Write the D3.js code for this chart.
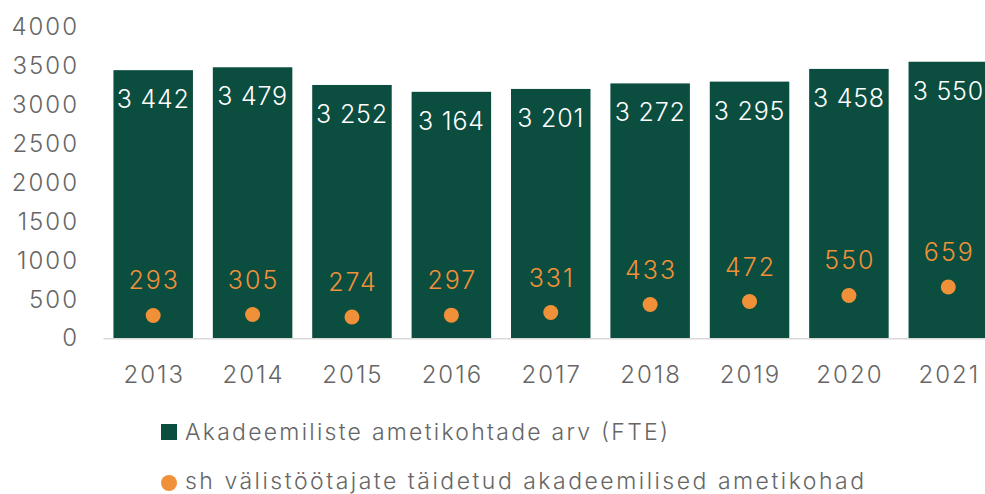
<!DOCTYPE html>
<html>
  <head>
    <style>
      body { margin: 0; background: #fff; }
      text { font-family: Inter, "DejaVu Sans", sans-serif; }
    </style>
    <script src="https://d3js.org/d3.v7.min.js"></script>
  </head>

  <body>
    <svg width="985" height="494"></svg>

    <script>
      var years = ["2013", "2014", "2015", "2016", "2017", "2018", "2019", "2020", "2021"];
      var totalFte = [3442, 3479, 3252, 3164, 3201, 3272, 3295, 3458, 3550];
      var foreignFte = [293, 305, 274, 297, 331, 433, 472, 550, 659];
      var yTicks = [0, 500, 1000, 1500, 2000, 2500, 3000, 3500, 4000];
      var legendLabels = [
        "Akadeemiliste ametikohtade arv (FTE)",
        "sh välistöötajate täidetud akadeemilised ametikohad"
      ];
      var legendWidths = [483, 679];

      var green = "#0b4d3f", orange = "#f0913a", grey = "#666666";

      var svg = d3.select("svg");

      var x = d3.scaleBand().domain(years).range([103.5, 998])
        .paddingInner(0.2).paddingOuter(0.1);
      var y = d3.scaleLinear().domain([0, 4000]).range([338.3, 26.7]);

      var fmt = d3.formatLocale({ decimal: ",", thousands: " ", grouping: [3], currency: ["", ""] }).format(",d");

      // y axis labels
      var yAxis = svg.append("g")
        .attr("transform", "translate(79,0)")
        .call(d3.axisLeft(y).tickValues(yTicks).tickSize(0).tickPadding(0).tickFormat(d3.format("d")));
      yAxis.select(".domain").remove();
      yAxis.selectAll("text").attr("font-size", 24).attr("fill", grey)
        .attr("font-family", null).attr("font-weight", 300)
        .style("letter-spacing", "2px");

      // bars
      svg.selectAll(".bar")
        .data(totalFte)
        .enter()
        .append("rect")
        .attr("class", "bar")
        .attr("x", function (d, i) { return x(years[i]); })
        .attr("y", function (d) { return y(d); })
        .attr("width", x.bandwidth())
        .attr("height", function (d) { return y(0) - y(d); })
        .attr("fill", green);

      // baseline
      svg.append("line")
        .attr("x1", x.range()[0]).attr("x2", 985)
        .attr("y1", y(0) + 0.5).attr("y2", y(0) + 0.5)
        .attr("stroke", "#d9d9d9").attr("stroke-width", 1.5);

      // bar labels
      svg.selectAll(".barlabel")
        .data(totalFte)
        .enter()
        .append("text")
        .attr("x", function (d, i) { return x(years[i]) + x.bandwidth() / 2; })
        .attr("y", function (d) { return y(d) + 38; })
        .attr("text-anchor", "middle")
        .attr("font-size", 25)
        .attr("font-weight", 300)
        .attr("fill", "#fff")
        .style("letter-spacing", "0.8px")
        .text(function (d) { return fmt(d); });

      // dots
      svg.selectAll(".dot")
        .data(foreignFte)
        .enter()
        .append("circle")
        .attr("cx", function (d, i) { return x(years[i]) + x.bandwidth() / 2; })
        .attr("cy", function (d) { return y(d); })
        .attr("r", 7.5)
        .attr("fill", orange);

      svg.selectAll(".dotlabel")
        .data(foreignFte)
        .enter()
        .append("text")
        .attr("x", function (d, i) { return x(years[i]) + x.bandwidth() / 2 + 1; })
        .attr("y", function (d) { return y(d) - 26; })
        .attr("text-anchor", "middle")
        .attr("font-size", 25)
        .attr("font-weight", 300)
        .attr("fill", orange)
        .style("letter-spacing", "2px")
        .text(function (d) { return d; });

      // x axis labels
      var xAxis = svg.append("g")
        .attr("transform", "translate(1,383)")
        .call(d3.axisBottom(x).tickSize(0).tickPadding(0));
      xAxis.select(".domain").remove();
      xAxis.selectAll("text").attr("font-size", 24).attr("fill", grey)
        .attr("font-family", null).attr("font-weight", 300).attr("dy", 0)
        .style("letter-spacing", "2px");

      // legend
      svg.append("rect").attr("x", 161).attr("y", 424).attr("width", 16).attr("height", 16).attr("fill", green);
      svg.append("circle").attr("cx", 169).attr("cy", 483).attr("r", 8).attr("fill", orange);
      svg.selectAll(".legend")
        .data(legendLabels)
        .enter()
        .append("text")
        .attr("x", 185)
        .attr("y", function (d, i) { return 440 + i * 49; })
        .attr("font-size", 23)
        .attr("font-weight", 300)
        .attr("fill", grey)
        .attr("textLength", function (d, i) { return legendWidths[i]; })
        .attr("lengthAdjust", "spacing")
        .text(function (d) { return d; });
    </script>
  </body>
</html>
